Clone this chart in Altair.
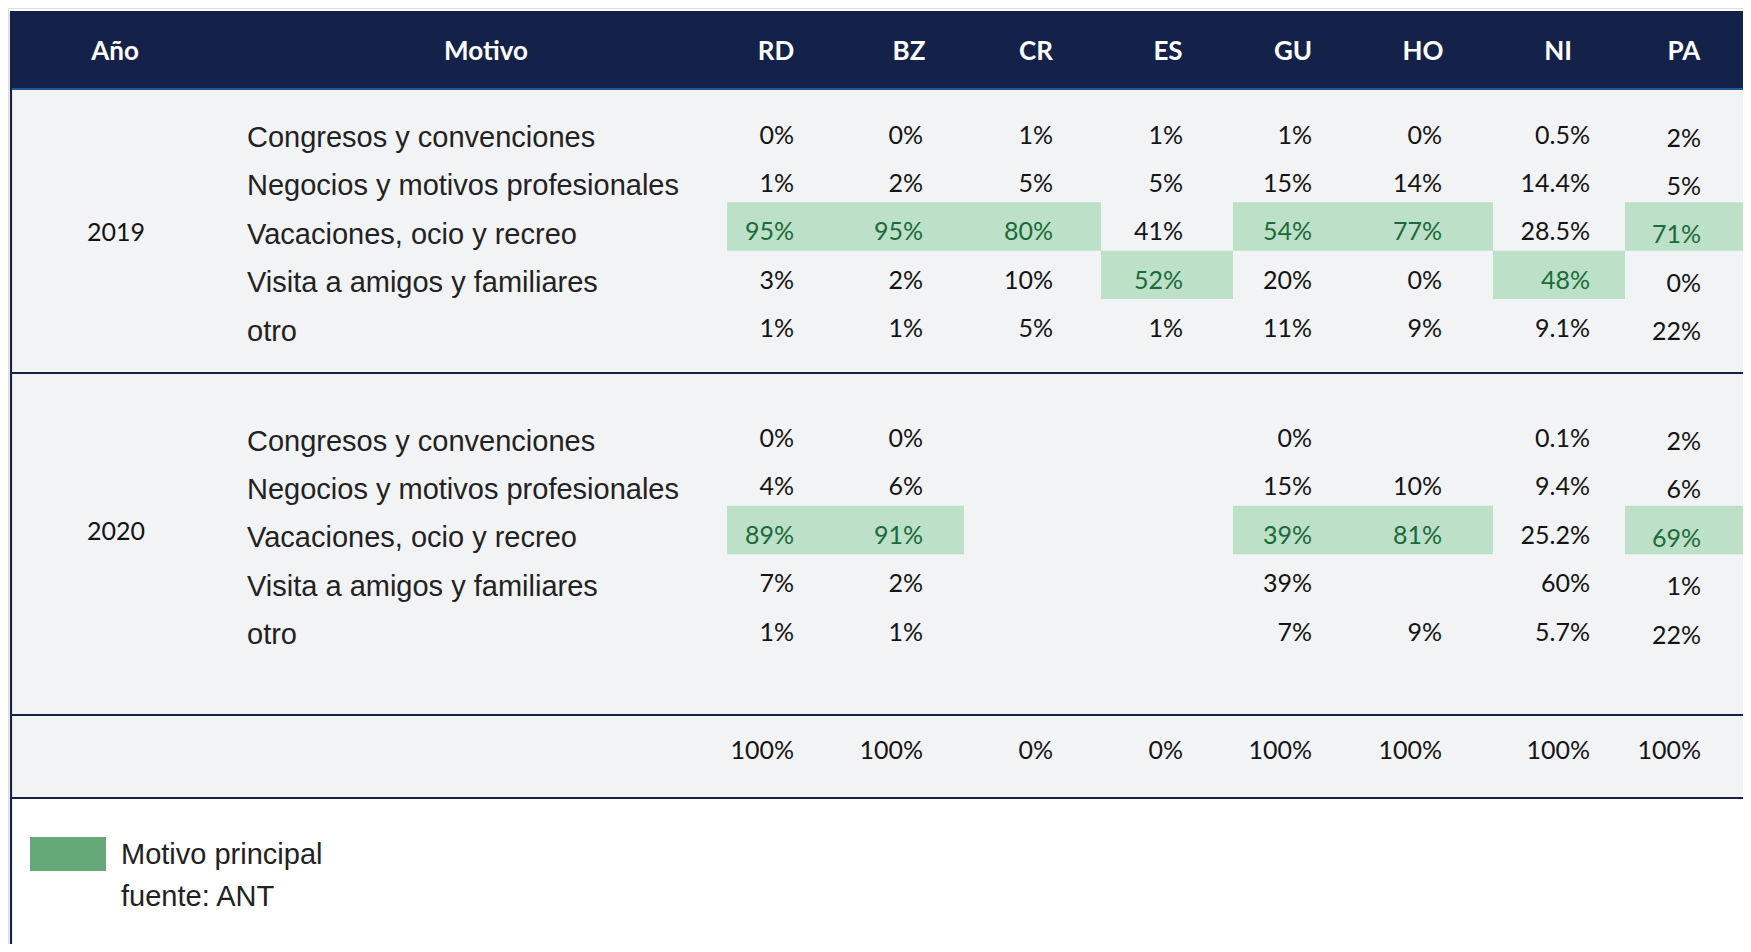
import altair as alt
import pandas as pd

# ---------------- data ----------------
countries = ["RD", "BZ", "CR", "ES", "GU", "HO", "NI", "PA"]
motivos = [
    "Congresos y convenciones",
    "Negocios y motivos profesionales",
    "Vacaciones, ocio y recreo",
    "Visita a amigos y familiares",
    "otro",
]
years = ["2019", "2020"]

# percentages per country, in the order of `motivos`
v2019 = {
    "RD": [0, 1, 95, 3, 1],
    "BZ": [0, 2, 95, 2, 1],
    "CR": [1, 5, 80, 10, 5],
    "ES": [1, 5, 41, 52, 1],
    "GU": [1, 15, 54, 20, 11],
    "HO": [0, 14, 77, 0, 9],
    "NI": [0.5, 14.4, 28.5, 48, 9.1],
    "PA": [2, 5, 71, 0, 22],
}
v2020 = {
    "RD": [0, 4, 89, 7, 1],
    "BZ": [0, 6, 91, 2, 1],
    "CR": [None, None, None, None, None],
    "ES": [None, None, None, None, None],
    "GU": [0, 15, 39, 39, 7],
    "HO": [None, 10, 81, None, 9],
    "NI": [0.1, 9.4, 25.2, 60, 5.7],
    "PA": [2, 6, 69, 1, 22],
}
totals = [100, 100, 0, 0, 100, 100, 100, 100]

# cells marked as "Motivo principal": (year, country, motivo index)
highlight = [
    ("2019", "RD", 2), ("2019", "BZ", 2), ("2019", "CR", 2), ("2019", "ES", 3),
    ("2019", "GU", 2), ("2019", "HO", 2), ("2019", "NI", 3), ("2019", "PA", 2),
    ("2020", "RD", 2), ("2020", "BZ", 2), ("2020", "GU", 2), ("2020", "HO", 2),
    ("2020", "PA", 2),
]

header_cols = ["Año", "Motivo"] + countries
legend_label = "Motivo principal"
source_label = "fuente: ANT"

# ---------------- layout (reference pixel units) ----------------
W, H = 1735, 936
xs = alt.Scale(domain=[8, 8 + W], nice=False, zero=False)
ys = alt.Scale(domain=[8, 8 + H], nice=False, zero=False, reverse=True)

col_left = {"RD": 727, "BZ": 845, "CR": 964, "ES": 1101, "GU": 1233,
            "HO": 1363, "NI": 1493, "PA": 1625}
col_right_edge = {"RD": 845, "BZ": 964, "CR": 1101, "ES": 1233, "GU": 1363,
                  "HO": 1493, "NI": 1625, "PA": 1765}
text_right = {"RD": 794, "BZ": 923, "CR": 1053, "ES": 1183, "GU": 1312,
              "HO": 1442, "NI": 1590, "PA": 1701}
text_dy = {"PA": 3}
header_center = {"Año": 115, "Motivo": 486, "RD": 776, "BZ": 909, "CR": 1036,
                 "ES": 1168, "GU": 1293, "HO": 1423, "NI": 1558, "PA": 1684}
row_top = {"2019": 105.5, "2020": 409}
year_y = {"2019": 233, "2020": 532}
PITCH = 48.4
TXT_OFF = 30
LABEL_DY = 2.5
LEFT, RIGHT = 11, 1765
HEADER_TOP, HEADER_BOT = 11, 88
BODY_BOT = 798
SEPS = [373, 715, 798]
HEADER_Y = 52
TOTAL_Y = 751
MOTIVO_X = 247
YEAR_X = 116

NAVY = "#14224a"
LINEBLUE = "#1f5b8e"
BG = "#f2f3f5"
HL = "#bde0c9"
HL_TEXT = "#1b6b3a"
SWATCH = "#66a978"
INK = "#141414"


def fmt(v):
    v = float(v)
    return f"{int(v)}%" if v.is_integer() else f"{v:.1f}%"


# ---------------- tables ----------------
rects = pd.DataFrame([
    {"x": LEFT, "x2": RIGHT, "y": HEADER_BOT, "y2": BODY_BOT, "c": BG},
    {"x": LEFT, "x2": RIGHT, "y": HEADER_TOP, "y2": HEADER_BOT, "c": NAVY},
    {"x": 30, "x2": 106, "y": 837, "y2": 871, "c": SWATCH},
])

hl_rows = []
for yr, c, i in highlight:
    top = row_top[yr] + PITCH * i
    hl_rows.append({"x": col_left[c], "x2": col_right_edge[c], "y": top, "y2": top + PITCH})
hl_df = pd.DataFrame(hl_rows)

hl_set = set(highlight)
val_rows = []
for yr, vals in (("2019", v2019), ("2020", v2020)):
    for c in countries:
        for i, v in enumerate(vals[c]):
            if v is None:
                continue
            val_rows.append({
                "x": text_right[c],
                "y": row_top[yr] + PITCH * i + TXT_OFF + text_dy.get(c, 0),
                "label": fmt(v),
                "color": HL_TEXT if (yr, c, i) in hl_set else INK,
            })
for c, t in zip(countries, totals):
    val_rows.append({"x": text_right[c], "y": TOTAL_Y, "label": fmt(t), "color": INK})
val_df = pd.DataFrame(val_rows)

mot_rows = []
for yr in years:
    for i, m in enumerate(motivos):
        mot_rows.append({"x": MOTIVO_X, "y": row_top[yr] + PITCH * i + TXT_OFF + LABEL_DY, "label": m})
mot_df = pd.DataFrame(mot_rows)

year_df = pd.DataFrame({"x": [YEAR_X] * 2, "y": [year_y[y] for y in years], "label": years})
head_df = pd.DataFrame({"x": [header_center[h] for h in header_cols], "y": [HEADER_Y] * len(header_cols),
                        "label": header_cols})
leg_df = pd.DataFrame({"x": [121, 121], "y": [855, 897], "label": [legend_label, source_label]})

sep_df = pd.DataFrame({"x": [LEFT] * len(SEPS), "x2": [RIGHT] * len(SEPS), "y": SEPS})
hline_df = pd.DataFrame({"x": [LEFT], "x2": [RIGHT], "y": [HEADER_BOT + 1]})
vline_df = pd.DataFrame({"x": [LEFT], "y": [HEADER_TOP], "y2": [960]})


def X(f="x"):
    return alt.X(f"{f}:Q", scale=xs, axis=None)


def Y(f="y"):
    return alt.Y(f"{f}:Q", scale=ys, axis=None)


bg = alt.Chart(rects).mark_rect().encode(
    x=X(), x2="x2:Q", y=Y(), y2="y2:Q", color=alt.Color("c:N", scale=None))
hl = alt.Chart(hl_df).mark_rect(color=HL).encode(x=X(), x2="x2:Q", y=Y(), y2="y2:Q")
seps = alt.Chart(sep_df).mark_rule(color=NAVY, strokeWidth=2.2).encode(x=X(), x2="x2:Q", y=Y())
hline = alt.Chart(hline_df).mark_rule(color=LINEBLUE, strokeWidth=2).encode(x=X(), x2="x2:Q", y=Y())
vline = alt.Chart(vline_df).mark_rule(color=NAVY, strokeWidth=2.2).encode(x=X(), y=Y(), y2="y2:Q")

heads = alt.Chart(head_df).mark_text(font="Lato", fontWeight="bold", fontSize=26, color="white",
                                     align="center", baseline="middle").encode(x=X(), y=Y(), text="label:N")
yrs = alt.Chart(year_df).mark_text(font="Lato", fontSize=25, color=INK, align="center",
                                   baseline="middle").encode(x=X(), y=Y(), text="label:N")
mots = alt.Chart(mot_df).mark_text(font="Liberation Sans", fontSize=29, color="#222222", align="left",
                                   baseline="middle").encode(x=X(), y=Y(), text="label:N")
vals = alt.Chart(val_df).mark_text(font="Lato", fontSize=25, align="right", baseline="middle").encode(
    x=X(), y=Y(), text="label:N", color=alt.Color("color:N", scale=None))
leg = alt.Chart(leg_df).mark_text(font="Liberation Sans", fontSize=29, color="#222222", align="left",
                                  baseline="middle").encode(x=X(), y=Y(), text="label:N")

chart = alt.layer(bg, hl, seps, hline, vline, heads, yrs, mots, vals, leg).properties(
    width=W, height=H, padding=0, autosize=alt.AutoSizeParams(type="none")
).configure_view(stroke=None).configure(background="white")

chart.save("out.html", embed_options={"renderer": "svg", "actions": False})
